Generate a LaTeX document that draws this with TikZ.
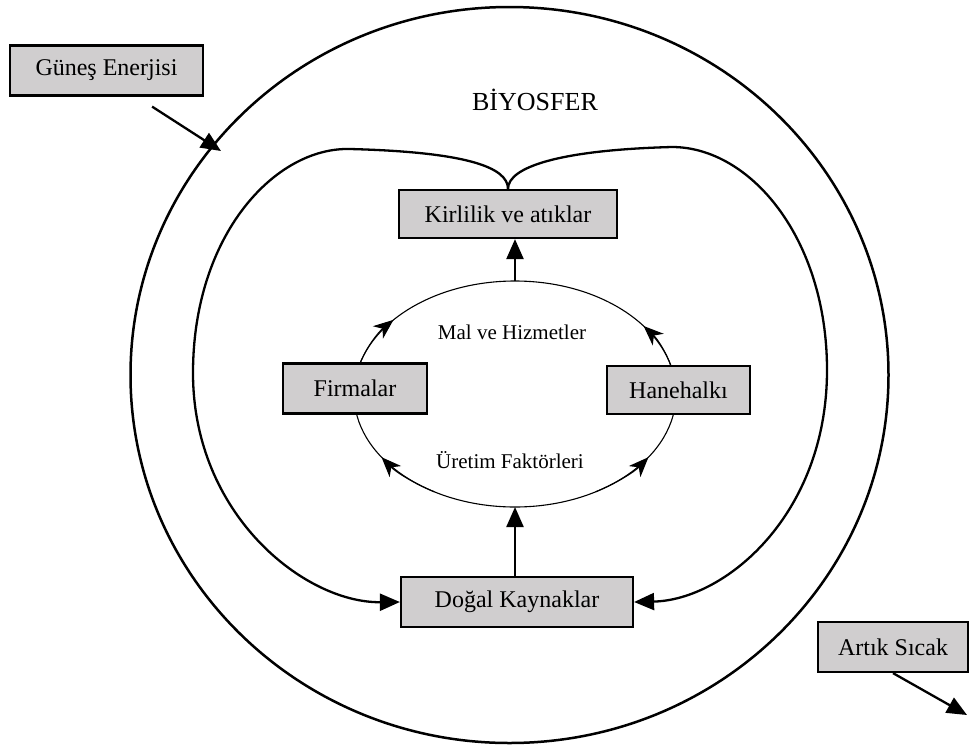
\documentclass[tikz,border=0pt]{standalone}
\usepackage{fontspec}
\setmainfont{Liberation Serif}
\usetikzlibrary{arrows.meta,calc}
\definecolor{boxgray}{RGB}{208,206,207}

\begin{document}
\begin{tikzpicture}[x=1pt,y=-1pt,
	boxnode/.style={draw=black, line width=2.2pt, fill=boxgray, inner sep=0pt, minimum height=50pt, font=\fontsize{24}{28}\selectfont},
	ring/.style={line width=2.5pt},
	loopline/.style={line width=2.3pt, -{Triangle[length=20pt,width=17pt]}},
	flowarrow/.style={line width=2.3pt, -{Triangle[length=20pt,width=17pt]}},
	cycleline/.style={line width=1.1pt},
	cyclearrow/.style={line width=1.1pt, -{Stealth[length=20pt,width=16pt,inset=6pt]}},
	smalltext/.style={font=\fontsize{21}{25}\selectfont}]
			%%%%% START %%%%%
			
			\useasboundingbox (0,0) rectangle (969,745);
			
			% biyosfer
			\draw[ring] (509.5,375) ellipse [x radius=379, y radius=368];
			\node[font=\fontsize{26}{30}\selectfont] (bio) at (535,100) {BİYOSFER};
			
			% ekonomik dongu
			\coordinate (cyc) at (515,394);
			\coordinate (cyc-n) at (515,281);
			\coordinate (cyc-s) at (515,507);
			\draw[cycleline] (cyc) ellipse [x radius=161, y radius=113];
			\draw[cyclearrow] ($(cyc)+(196:161 and 113)$) arc [start angle=196, end angle=221, x radius=161, y radius=113];
			\draw[cyclearrow] ($(cyc)+(348:161 and 113)$) arc [start angle=348, end angle=323, x radius=161, y radius=113];
			\draw[cyclearrow] ($(cyc)+(120:161 and 113)$) arc [start angle=120, end angle=146, x radius=161, y radius=113];
			\draw[cyclearrow] ($(cyc)+(60:161 and 113)$) arc [start angle=60, end angle=34, x radius=161, y radius=113];
			\node[smalltext] (mal) at (512,332) {Mal ve Hizmetler};
			\node[smalltext] (uretim) at (510,460) {Üretim Faktörleri};
			
			\node[boxnode, minimum width=193pt] (sun) at (106.5,70.5) {Güneş Enerjisi};
			\node[boxnode, minimum width=218pt, minimum height=48pt] (kir) at (508,214) {Kirlilik ve atıklar};
			\node[boxnode, minimum width=144pt] (firm) at (355,388.5) {Firmalar};
			\node[boxnode, minimum width=143pt, minimum height=48pt] (hane) at (678.5,390) {Hanehalkı};
			\node[boxnode, minimum width=232pt] (dog) at (517,602) {Doğal Kaynaklar};
			\node[boxnode, minimum width=150pt] (heat) at (893,647) {Artık Sıcak};
			
			% ic donguler
			\draw[loopline] (kir.north) .. controls +(0,-22) and (465,152) .. (350,149)
				.. controls (275,147) and (193,235) .. (193,373)
				.. controls (193,515) and (305,603) .. (dog.west);
			\draw[loopline] (kir.north) .. controls +(0,-22) and (560,150) .. (672,147)
				.. controls (750,147) and (827,238) .. (827,370)
				.. controls (827,515) and (725,600) .. (dog.east);
			
			\draw[flowarrow] (cyc-n) -- (cyc-n |- kir.south);
			\draw[flowarrow] (dog.north -| cyc-s) -- (cyc-s);
			
			% enerji giris ve cikis
			\coordinate (sun-in) at (221,151);
			\coordinate (heat-out) at (967,715);
			\draw[flowarrow] ($(sun.south east)+(-52,10)$) -- (sun-in);
			\draw[flowarrow] (heat.south) -- (heat-out);
			
			%%%%% END %%%%%
\end{tikzpicture}
\end{document}
